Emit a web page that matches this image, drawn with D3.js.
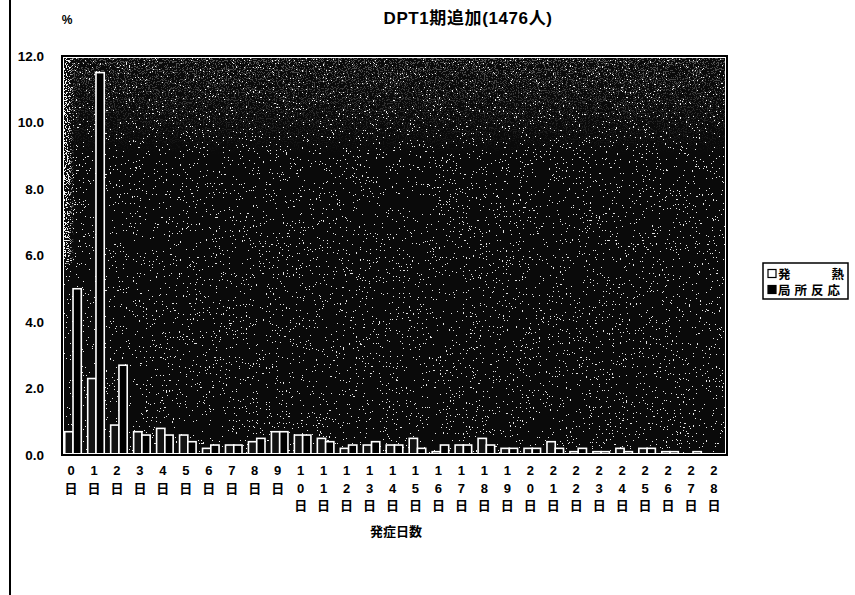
<!DOCTYPE html>
<html><head><meta charset="utf-8">
<script src="https://cdn.jsdelivr.net/npm/d3@7"></script>
<style>
html,body{margin:0;padding:0;background:#fff;}
text{font-family:"Liberation Sans","Noto Sans CJK JP",sans-serif;font-weight:bold;fill:#000;}
</style></head><body>
<svg id="c" width="855" height="595"></svg>
<script>
const days = d3.range(0, 29).map(d => String(d));
const dayUnit = "日";
const fever = [0.7, 2.3, 0.9, 0.7, 0.8, 0.6, 0.2, 0.3, 0.4, 0.7, 0.6, 0.5, 0.2, 0.3, 0.3, 0.5, 0.1, 0.3, 0.5, 0.2, 0.2, 0.4, 0.1, 0.1, 0.2, 0.2, 0.1, 0.0, 0.0];
const local = [5.0, 11.5, 2.7, 0.6, 0.6, 0.4, 0.3, 0.3, 0.5, 0.7, 0.6, 0.4, 0.3, 0.4, 0.3, 0.2, 0.3, 0.3, 0.3, 0.2, 0.2, 0.2, 0.2, 0.1, 0.1, 0.2, 0.1, 0.1, 0.0];
const seriesNames = ["発　　熱", "局所反応"];
const yTicks = [0, 2, 4, 6, 8, 10, 12];
const title = "DPT1期追加(1476人)";
const xTitle = "発症日数";
const yUnit = "%";

const svg = d3.select("#c");
const W = 855, H = 595;
const m = {l: 62, r: 128, t: 56, b: 140};
const pw = W - m.l - m.r, ph = H - m.t - m.b;

// page edge line
svg.append("line").attr("x1", 10).attr("x2", 10).attr("y1", 0).attr("y2", H)
  .attr("stroke", "#000").attr("stroke-width", 2);

const defs = svg.append("defs");
function speckle(id, freq, seed, table) {
  const f = defs.append("filter").attr("id", id).attr("x", 0).attr("y", 0).attr("width", 1).attr("height", 1);
  f.append("feTurbulence").attr("type", "fractalNoise").attr("baseFrequency", freq).attr("numOctaves", 2).attr("seed", seed).attr("result", "t");
  f.append("feColorMatrix").attr("in", "t").attr("type", "matrix")
    .attr("values", "0 0 0 0 1  0 0 0 0 1  0 0 0 0 1  1.4 0 0 0 -0.2").attr("result", "a");
  f.append("feComponentTransfer").attr("in", "a").attr("result", "dots")
    .append("feFuncA").attr("type", "discrete").attr("tableValues", table);
  f.append("feComposite").attr("in", "dots").attr("in2", "SourceGraphic").attr("operator", "in");
}
speckle("sp1", 0.7, 7, "0 0 0 0 0 0 0 0 1 1");
speckle("sp2", 0.9, 11, "0 0 0 0 0 0 1 1 1 1");

const lg = defs.append("linearGradient").attr("id", "edge").attr("x1", 0).attr("x2", 1).attr("y1", 0).attr("y2", 0);
lg.append("stop").attr("offset", 0).attr("stop-color", "#fff").attr("stop-opacity", 1);
lg.append("stop").attr("offset", 0.01).attr("stop-color", "#fff").attr("stop-opacity", 0.9);
lg.append("stop").attr("offset", 0.018).attr("stop-color", "#fff").attr("stop-opacity", 0);
const lgT = defs.append("linearGradient").attr("id", "topg").attr("x1", 0).attr("x2", 0).attr("y1", 0).attr("y2", 1);
lgT.append("stop").attr("offset", 0).attr("stop-color", "#fff").attr("stop-opacity", 0.3);
lgT.append("stop").attr("offset", 0.25).attr("stop-color", "#fff").attr("stop-opacity", 0);
const mk = defs.append("mask").attr("id", "edgeMask");
const mkT = defs.append("mask").attr("id", "topMask");

const g = svg.append("g").attr("transform", `translate(${m.l},${m.t})`);

const x = d3.scaleBand().domain(days).range([0, pw]).paddingInner(0.28).paddingOuter(0.12);
const xs = d3.scaleBand().domain([0, 1]).range([0, x.bandwidth()]);
const y = d3.scaleLinear().domain([0, 12]).range([ph, 0]);

mk.append("rect").attr("width", pw).attr("height", ph * 0.52).attr("fill", "url(#edge)");
mkT.append("rect").attr("width", pw).attr("height", ph).attr("fill", "url(#topg)");

// plot background
g.append("rect").attr("width", pw).attr("height", ph).attr("fill", "#0a0a0a");
g.append("rect").attr("width", pw).attr("height", ph).attr("fill", "#fff").attr("filter", "url(#sp1)").attr("opacity", 0.9);
g.append("rect").attr("width", pw).attr("height", ph).attr("fill", "#fff").attr("filter", "url(#sp2)").attr("mask", "url(#topMask)");
g.append("rect").attr("width", pw).attr("height", ph).attr("fill", "#fff").attr("filter", "url(#sp2)").attr("mask", "url(#edgeMask)");

// bars
const data = days.map((d, i) => ({d, v: [fever[i], local[i]]}));
const grp = g.selectAll("g.cat").data(data).join("g").attr("transform", d => `translate(${x(d.d)},0)`);
grp.selectAll("rect").data(d => d.v.map((v, k) => ({v, k}))).join("rect")
  .attr("x", d => xs(d.k)).attr("width", xs.bandwidth())
  .attr("y", d => y(d.v)).attr("height", d => ph - y(d.v))
  .attr("fill", d => d.k === 0 ? "#141414" : "#000")
  .attr("stroke", "#fff").attr("stroke-width", 1.6);

// frame
g.append("rect").attr("x", 1.5).attr("y", 1.5).attr("width", pw - 3).attr("height", ph - 3).attr("fill", "none").attr("stroke", "#fff").attr("stroke-width", 1);
g.append("rect").attr("width", pw).attr("height", ph).attr("fill", "none").attr("stroke", "#000").attr("stroke-width", 2);

// y axis labels
const ya = g.append("g").call(d3.axisLeft(y).tickValues(yTicks).tickFormat(d3.format(".1f")).tickSize(0).tickPadding(18));
ya.select(".domain").remove();
ya.selectAll("text").attr("font-size", 13.5).style("font-family", "Liberation Sans, sans-serif").style("font-weight", "bold");

// x axis labels (vertical stacked)
const xa = g.append("g").attr("transform", `translate(0,${ph})`)
  .call(d3.axisBottom(x).tickSize(0).tickFormat(""));
xa.select(".domain").remove();
xa.selectAll(".tick").each(function(d) {
  const chars = d.split("").concat([dayUnit]);
  const t = d3.select(this).append("text").attr("text-anchor", "middle").attr("font-size", 13)
    .attr("x", -2).attr("y", 20);
  chars.forEach((c, i) => t.append("tspan").attr("x", -2).attr("dy", i === 0 ? 0 : 17.5).text(c));
});

// titles
svg.append("text").attr("x", 468).attr("y", 24).attr("text-anchor", "middle").attr("font-size", 17)
  .attr("letter-spacing", 0.6).text(title);
svg.append("text").attr("x", 67).attr("y", 24).attr("text-anchor", "middle").attr("font-size", 12).text(yUnit);
svg.append("text").attr("x", 396).attr("y", 536).attr("text-anchor", "middle").attr("font-size", 13).text(xTitle);

// legend
const L = svg.append("g").attr("transform", "translate(763,263)");
L.append("rect").attr("width", 85).attr("height", 36).attr("fill", "#fff").attr("stroke", "#000").attr("stroke-width", 1.5);
seriesNames.forEach((n, i) => {
  const yy = 11 + i * 16;
  L.append("rect").attr("x", 5).attr("y", yy - 4.5).attr("width", 8).attr("height", 8)
    .attr("fill", i === 0 ? "#fff" : "#000").attr("stroke", "#000").attr("stroke-width", 1.2);
  L.append("text").attr("x", 15).attr("y", yy + 5).attr("font-size", 12.5)
    .attr("textLength", i === 0 ? 66 : 62).attr("lengthAdjust", "spacing").text(n);
});
</script>
</body></html>
